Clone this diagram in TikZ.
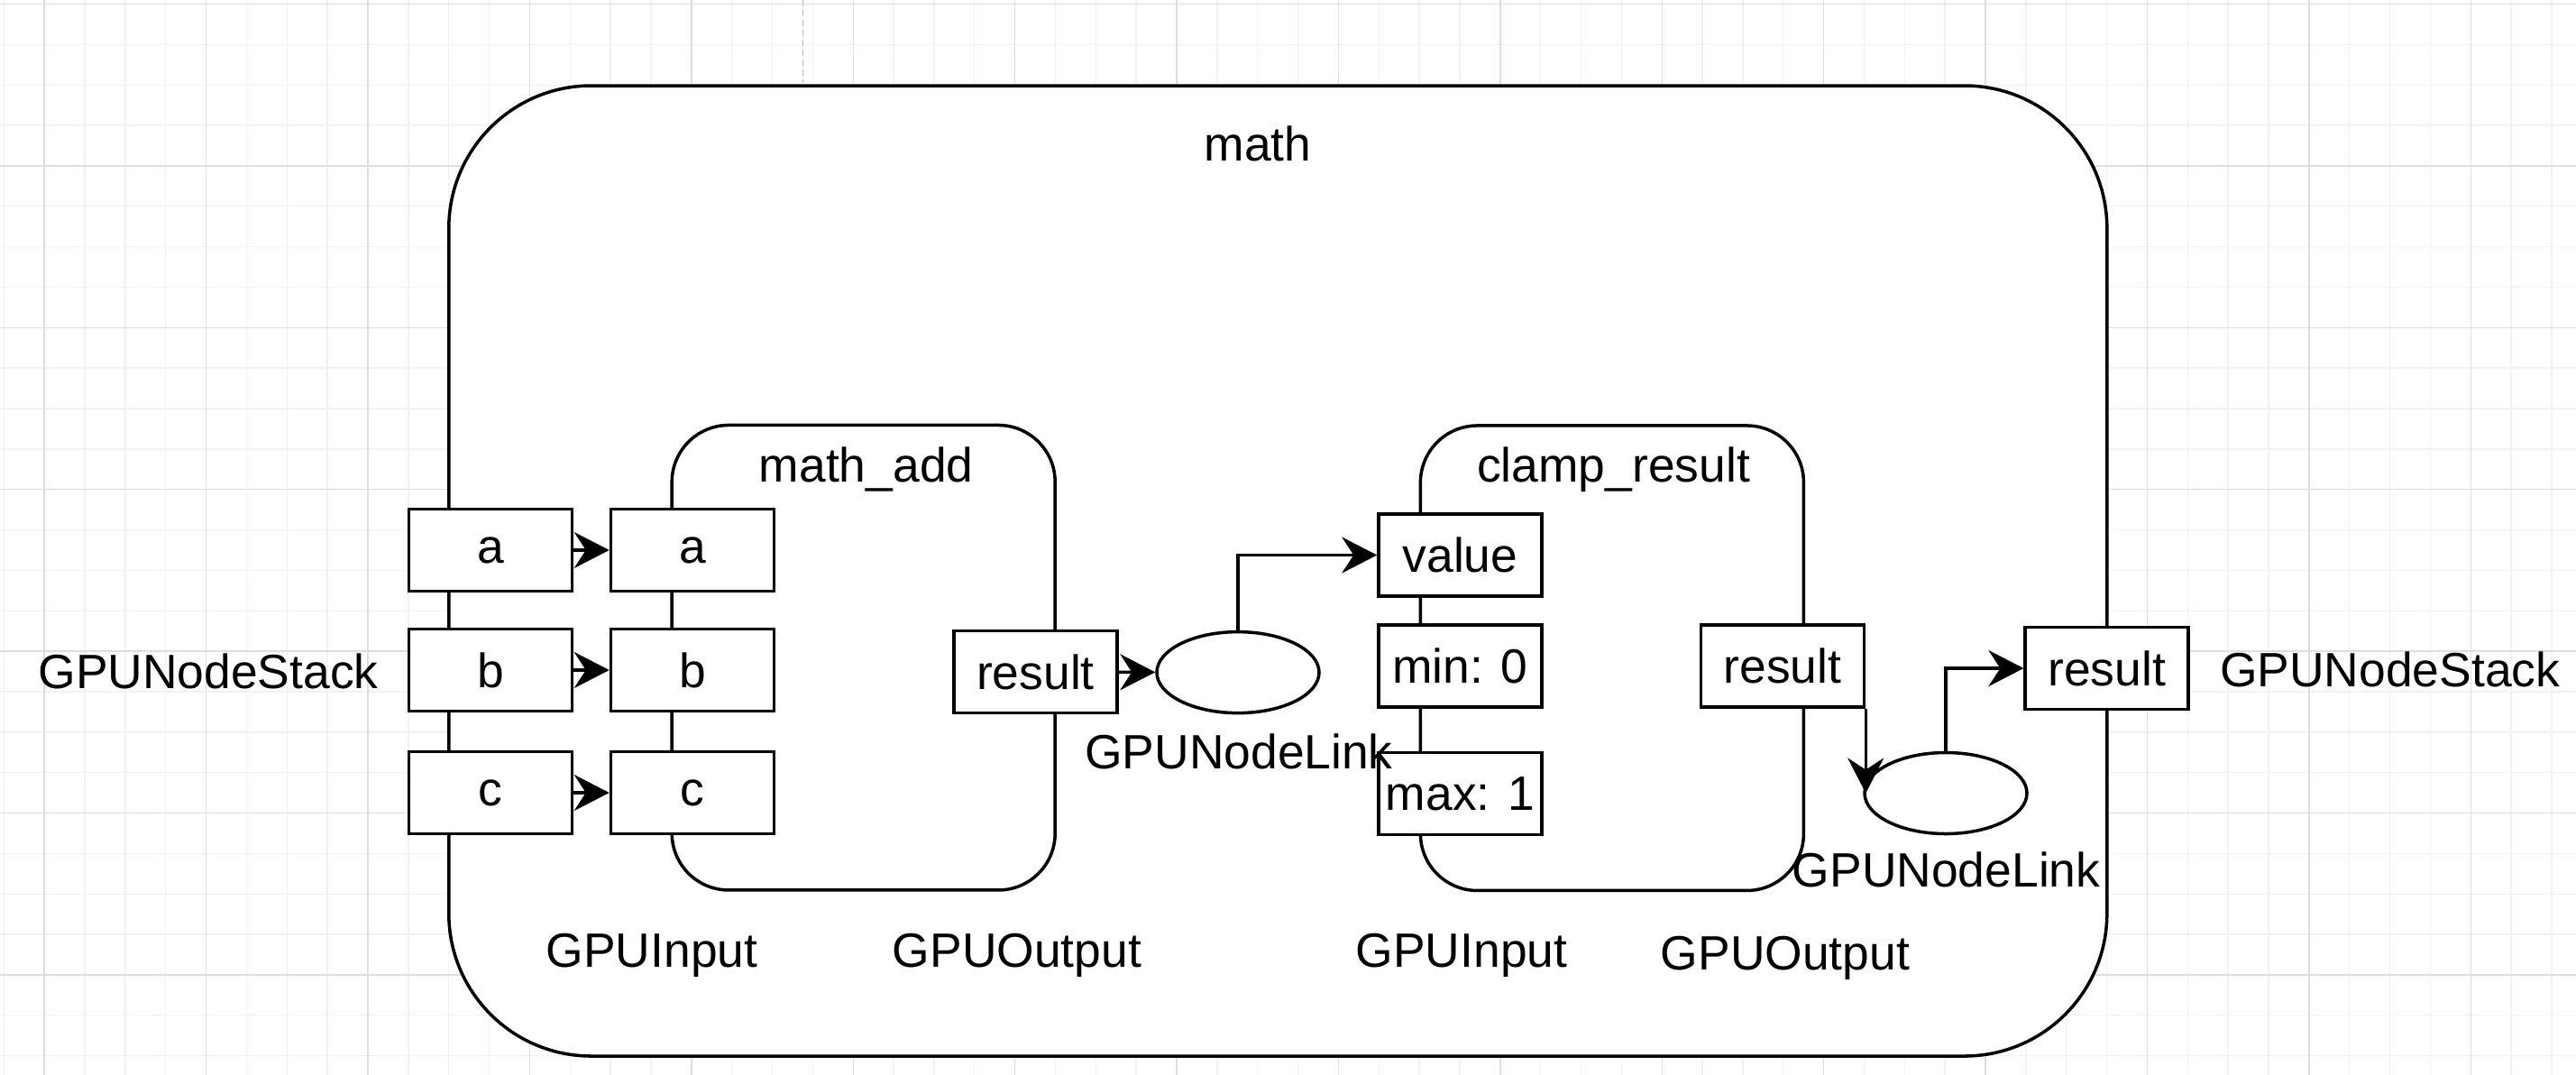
\documentclass[tikz,border=0pt]{standalone}
\usepackage{fontspec}
\setmainfont{Liberation Sans}
\usetikzlibrary{arrows.meta,shapes.geometric}
\definecolor{gridminor}{HTML}{F2F2F2}
\definecolor{gridmajor}{HTML}{DEDEDE}
\definecolor{pagebrk}{HTML}{B8B8B8}
\begin{document}
\begin{tikzpicture}[
    font=\fontsize{15.2pt}{18pt}\selectfont,
    line width=1pt,
    port/.style={draw,fill=white,minimum width=1.81cm,minimum height=0.91cm,inner sep=0pt},
    link/.style={draw,fill=white,ellipse,minimum width=1.80cm,minimum height=0.90cm,inner sep=0pt},
    group/.style={draw,rounded corners=0.63cm,minimum width=4.25cm,minimum height=5.155cm,inner sep=0pt},
    lbl/.style={inner sep=0pt,anchor=base},
    flow/.style={-{Stealth[length=3.9mm,width=4mm,inset=1.3mm]}}
  ]
    \useasboundingbox (0,0) rectangle (28.57,-11.91);
    % background grid
    \begin{scope}
      \clip (0,0) rectangle (28.57,-11.91);
      \begin{scope}[shift={(0.492,-0.045)}]
        \draw[gridminor,line width=0.4pt,step=0.4485] (-1,-13) grid (29,1);
        \draw[gridmajor,line width=0.4pt,step=1.794] (-1,-13) grid (29,1);
      \end{scope}
    \end{scope}
    \draw[pagebrk,line width=0.35pt,dash pattern=on 0.07cm off 0.04cm] (8.908,0) -- (8.908,-0.92);
    % groups
    \node[draw,fill=white,rounded corners=1.58cm,minimum width=18.39cm,minimum height=10.76cm,inner sep=0pt] (math) at (14.173,-6.33) {};
    \node[group] (mathadd) at (9.577,-7.292) {};
    \node[group] (clamp) at (17.879,-7.297) {};
    \node[lbl] (mathlbl) at (13.95,-1.78) {math};
    \node[lbl] (mathaddlbl) at (9.607,-5.34) {math\_add};
    \node[lbl] (clamplbl) at (17.896,-5.34) {clamp\_result};
    % ports
    \node[port] (stka) at (5.442,-6.10) {a};
    \node[port] (stkb) at (5.442,-7.43) {b};
    \node[port] (stkc) at (5.442,-8.79) {c};
    \node[port] (adda) at (7.68,-6.10) {a};
    \node[port] (addb) at (7.68,-7.43) {b};
    \node[port] (addc) at (7.68,-8.79) {c};
    \node[port] (addres) at (11.485,-7.45) {result};
    \node[port] (clpval) at (16.195,-6.155) {value};
    \node[port] (clpmin) at (16.195,-7.385) {min: 0};
    \node[port] (clpmax) at (16.195,-8.80) {max: 1};
    \node[port] (clpres) at (19.77,-7.385) {result};
    \node[port] (mathres) at (23.367,-7.41) {result};
    \node[link] (lnk1) at (13.73,-7.456) {};
    \node[link] (lnk2) at (21.58,-8.795) {};
    % links
    \draw[flow] (stka) to (adda);
    \draw[flow] (stkb) to (addb);
    \draw[flow] (stkc) to (addc);
    \draw[flow] (addres) to (lnk1);
    \draw[flow] (lnk1.north) |- (clpval.west);
    \draw[flow] (clpres.south east) to (clpres.south east |- lnk2.west);
    \draw[flow] (lnk2.north) |- (mathres.west);
    % type labels
    \node[lbl] (stklbl1) at (2.31,-7.63) {GPUNodeStack};
    \node[lbl] (stklbl2) at (26.507,-7.617) {GPUNodeStack};
    \node[lbl] (lnklbl1) at (13.74,-8.52) {GPUNodeLink};
    \node[lbl] (lnklbl2) at (21.586,-9.83) {GPUNodeLink};
    \node[lbl] (inlbl1) at (7.23,-10.72) {GPUInput};
    \node[lbl] (outlbl1) at (11.28,-10.72) {GPUOutput};
    \node[lbl] (inlbl2) at (16.21,-10.72) {GPUInput};
    \node[lbl] (outlbl2) at (19.80,-10.75) {GPUOutput};
\end{tikzpicture}
\end{document}
